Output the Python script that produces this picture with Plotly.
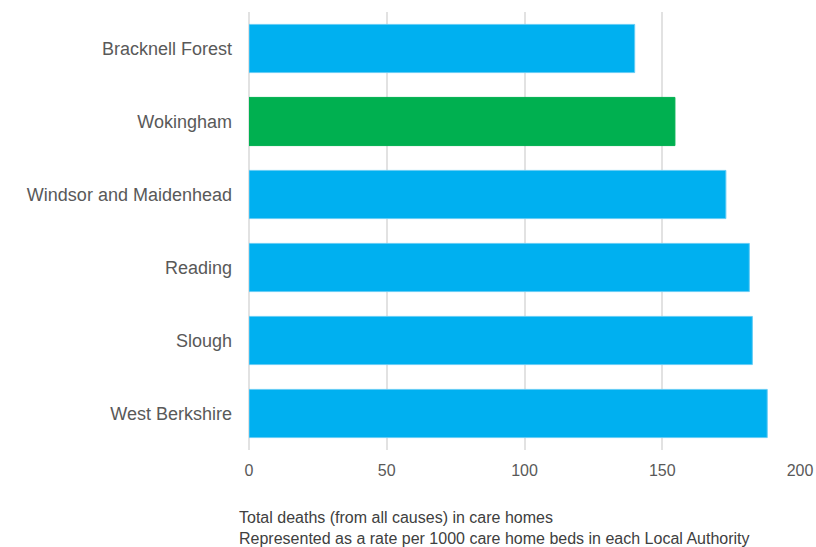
import plotly.graph_objects as go

categories = ["Bracknell Forest", "Wokingham", "Windsor and Maidenhead", "Reading", "Slough", "West Berkshire"]
values = [140.0, 154.6, 173.1, 181.6, 182.7, 188.1]
bar_colors = ["#00B0F0", "#00B050", "#00B0F0", "#00B0F0", "#00B0F0", "#00B0F0"]
line_colors = ["#66CCF5", "#00B050", "#66CCF5", "#66CCF5", "#66CCF5", "#66CCF5"]
x_ticks = [0, 50, 100, 150, 200]

fig = go.Figure(go.Bar(
    x=values, y=categories, orientation="h",
    marker=dict(color=bar_colors, line=dict(color=line_colors, width=1)),
    width=0.66,
))

font_family = "Liberation Sans, Arial, sans-serif"
fig.update_layout(
    width=816, height=547,
    margin=dict(l=249, r=16, t=12, b=97),
    paper_bgcolor="white", plot_bgcolor="white",
    showlegend=False,
    font=dict(family=font_family, size=16, color="#595959"),
    xaxis=dict(range=[0, 200], tickvals=x_ticks, showgrid=True, gridcolor="#E2E2E2", gridwidth=1.5,
               zeroline=True, zerolinecolor="#E2E2E2", zerolinewidth=1.5,
               showline=False, ticks="", ticklabelstandoff=9, automargin=False,
               ticklabeloverflow="allow",
               tickfont=dict(size=16, color="#595959")),
    yaxis=dict(categoryorder="array", categoryarray=categories[::-1], autorange=True,
               showgrid=False, showline=False, ticks="", ticklabelstandoff=16, automargin=False,
               tickfont=dict(size=18, color="#595959")),
    annotations=[dict(
        text="Total deaths (from all causes) in care homes<br>Represented as a rate per 1000 care home beds in each Local Authority",
        xref="paper", yref="paper", x=-0.0218, y=-0.1295, xanchor="left", yanchor="top",
        align="left", showarrow=False, font=dict(size=16, color="#404040", family=font_family),
    )],
)

fig.write_html(
    "out.html",
    config={"displayModeBar": False},
    post_script="document.body.style.margin='0';document.body.style.overflow='hidden';",
)
